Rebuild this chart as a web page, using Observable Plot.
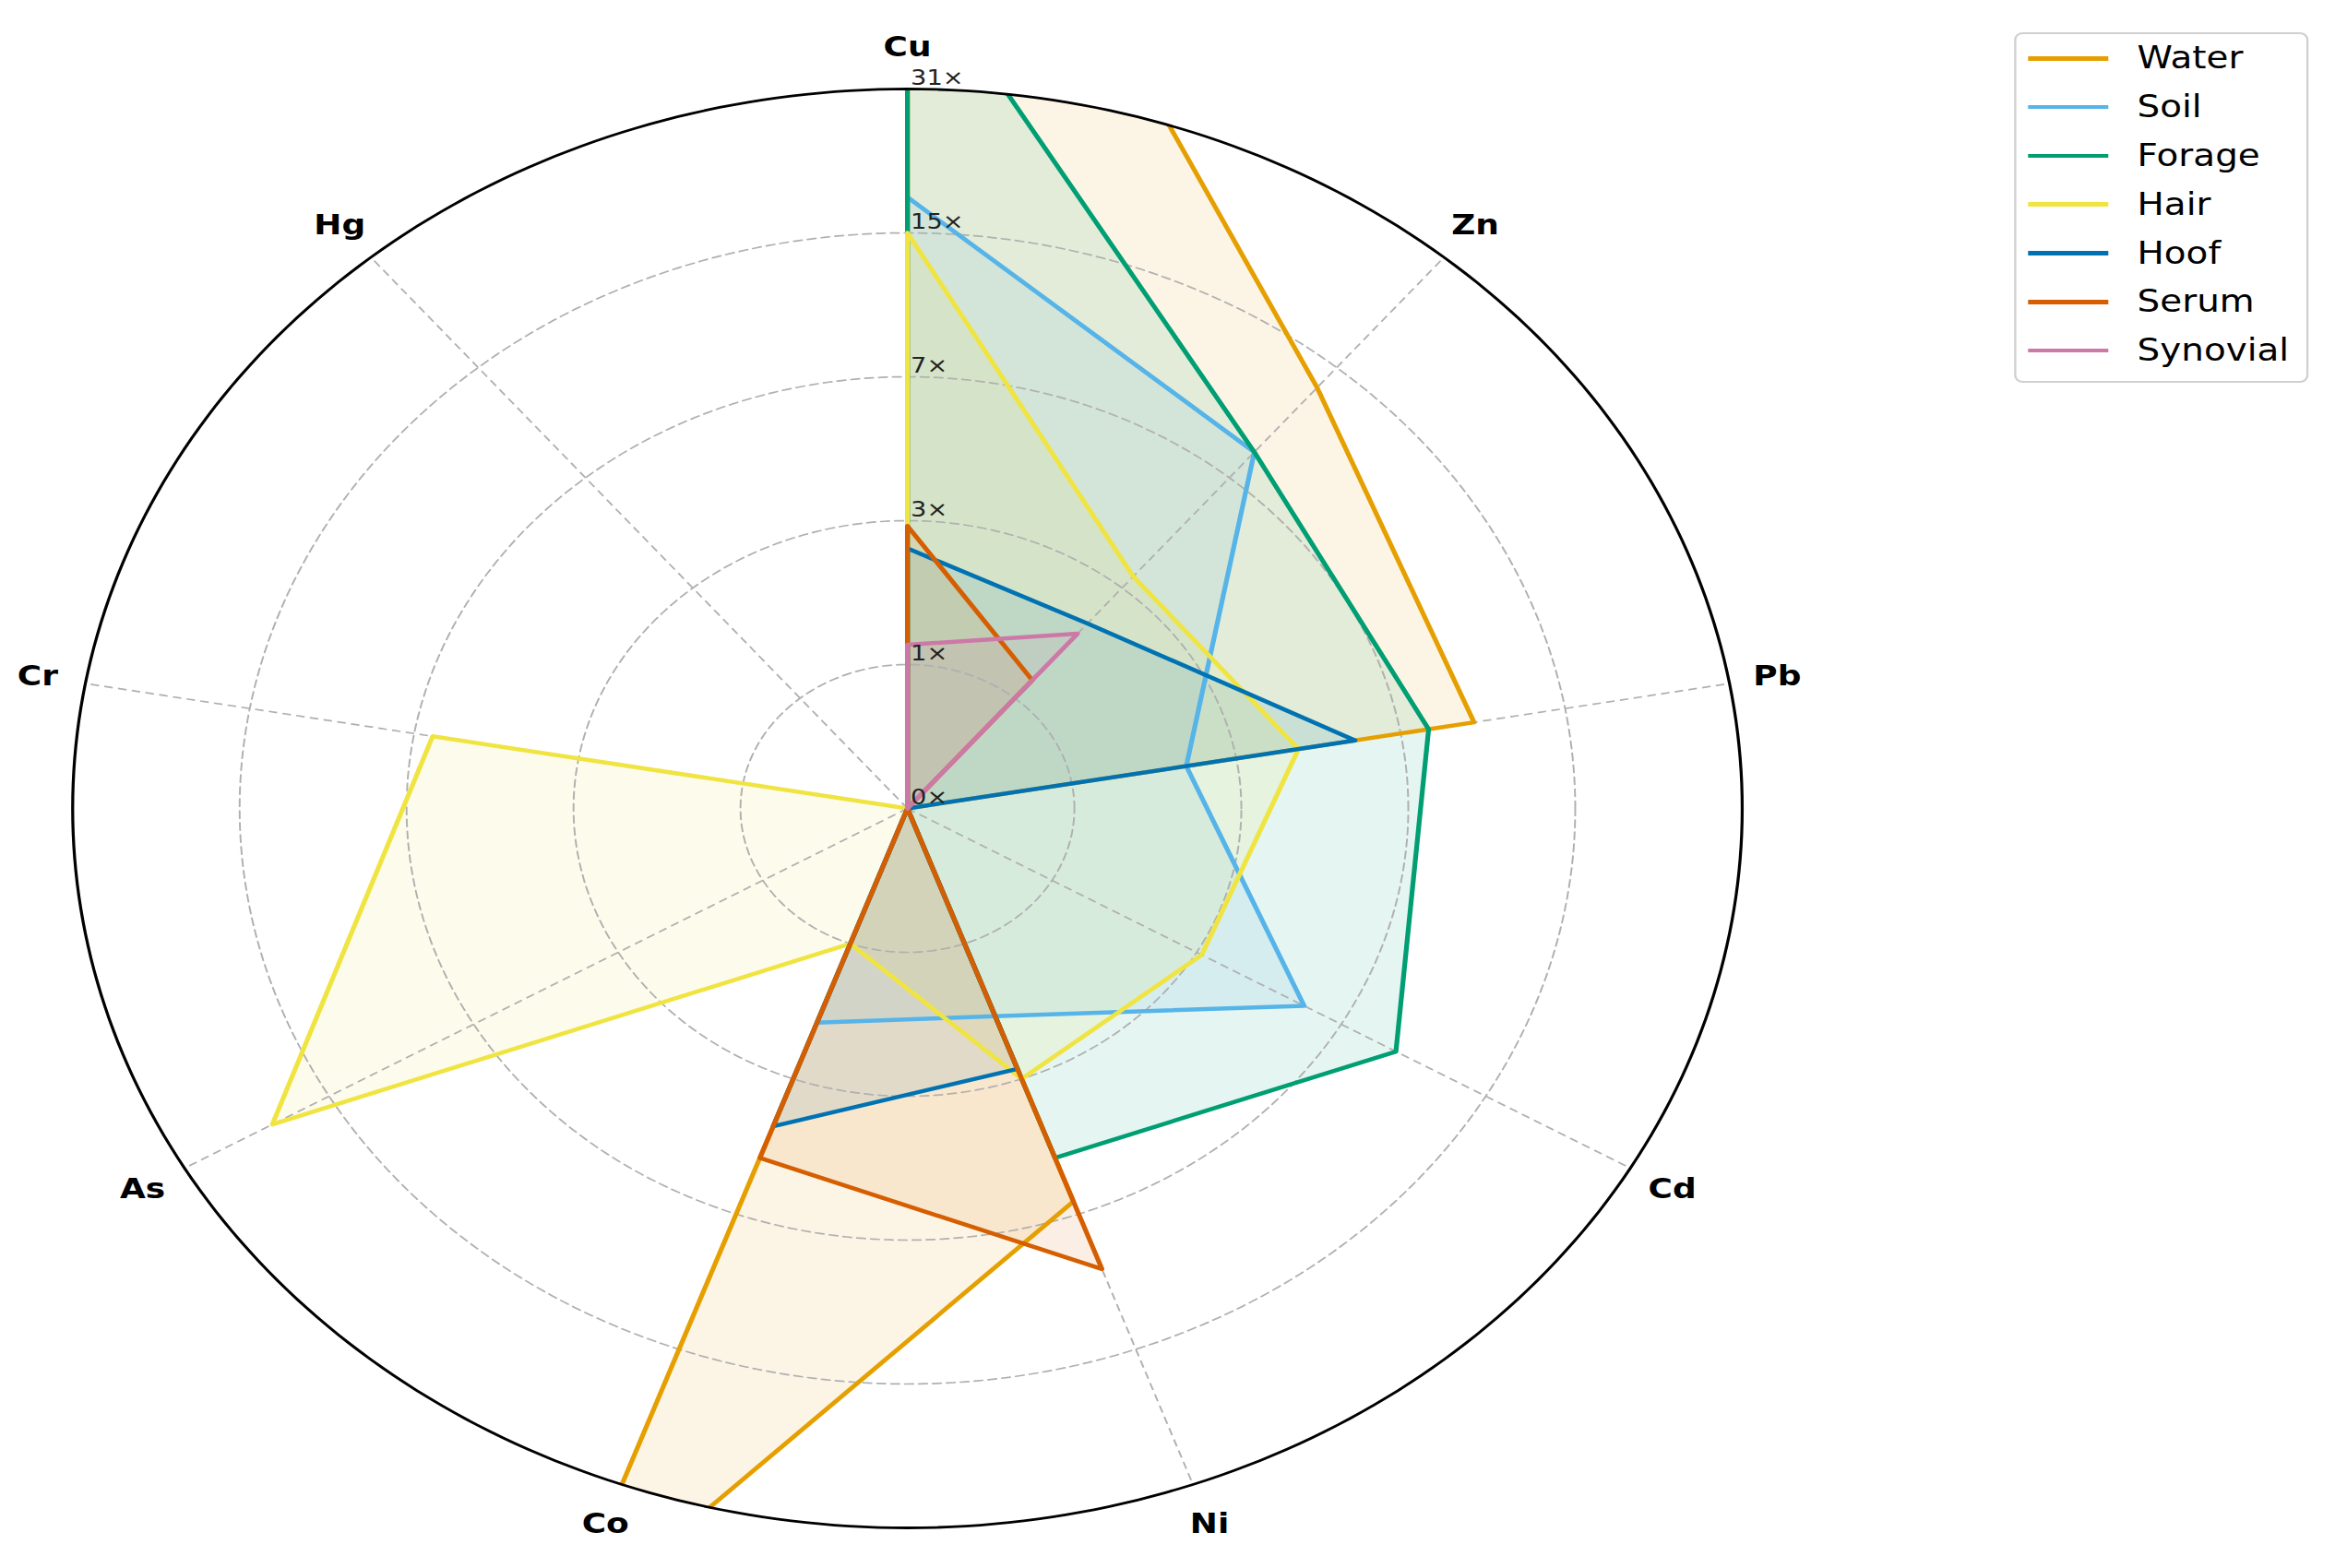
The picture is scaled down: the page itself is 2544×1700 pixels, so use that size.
<!DOCTYPE html>
<html>
<head>
<meta charset="utf-8">
<script src="https://cdn.jsdelivr.net/npm/d3@7"></script>
<script src="https://cdn.jsdelivr.net/npm/@observablehq/plot@0.6"></script>
<style>
html, body { margin: 0; padding: 0; background: #fff; }
body { width: 2544px; height: 1700px; overflow: hidden; font-family: "DejaVu Sans", sans-serif; position: relative; }
#wrap { position: absolute; left: 0; top: 0; width: 2193px; height: 1700px; transform: scaleX(1.16005); transform-origin: 0 0; }
#chart { position: absolute; left: 0; top: 0; }
#legend { position: absolute; left: 1882px; top: 35px; width: 271px; height: 376px; border: 2px solid #d0d0d0; border-radius: 8px; background: #fff; }
#legend .sw { position: absolute; left: 11px; width: 75px; height: 4.5px; }
#legend .lab { position: absolute; left: 113px; height: 40px; line-height: 40px; font-size: 33.5px; color: #000; white-space: nowrap; }
</style>
</head>
<body>
<div id="wrap">
  <div id="chart"></div>
  <div id="legend"></div>
</div>
<script>
// ---- data ----
const metals = ["Cu", "Zn", "Pb", "Cd", "Ni", "Co", "As", "Cr", "Hg"];
const seriesNames = ["Water", "Soil", "Forage", "Hair", "Hoof", "Serum", "Synovial"];
const seriesColors = ["#E69F00", "#56B4E9", "#009E73", "#F0E442", "#0072B2", "#D55E00", "#CC79A7"];
const ringTicks = [0, 1, 3, 7, 15, 31];

const water    = [250, 13.1, 9.9, 0, 6.5, 68, 0, 0, 0];
const soil     = [18, 8.4, 2.24, 5.7, 1.9, 2.0, 0, 0, 0];
const forage   = [62, 8.4, 8.0, 9.4, 5.0, 0, 0, 0, 0];
const hair     = [15, 3.3, 4.2, 3.1, 3.0, 1.0, 20, 6.4, 0];
const hoof     = [2.5, 2.2, 5.6, 0, 2.8, 4.1, 0, 0, 0];
const serum    = [2.9, 1.24, 0, 0, 9.6, 5.0, 0, 0, 0];
const synovial = [1.2, 2.0, 0, 0, 0, 0, 0, 0, 0];
const seriesValues = [water, soil, forage, hair, hoof, serum, synovial];

// ---- layout constants ----
const W = 2193, H = 1700;
const U = 156;            // pixels per radial unit (log2(1+x))
const CX = 847.4, CY = 876;
const RMAX = Math.log2(1 + ringTicks[ringTicks.length - 1]);
const LABEL_R = 5.29;

const toR = v => Math.log2(1 + v);
const angle = i => (90 - 40 * i) * Math.PI / 180;

// polygon table built from the arrays
const table = [];
seriesNames.forEach((s, k) => {
  seriesValues[k].forEach((v, i) => {
    const r = toR(v);
    table.push({series: s, metal: metals[i], x: r * Math.cos(angle(i)), y: r * Math.sin(angle(i))});
  });
});

// grid rings
const rings = [];
ringTicks.slice(1).forEach(t => {
  const r = toR(t);
  d3.range(0, 361, 1).forEach(a => {
    const th = a * Math.PI / 180;
    rings.push({r, x: r * Math.cos(th), y: r * Math.sin(th)});
  });
});

const gridStyle = {stroke: "#b0b0b0", strokeWidth: 1.7, strokeDasharray: "8,5"};

const marks = [];
// fills (below everything)
seriesNames.forEach((s, k) => {
  marks.push(Plot.line(table.filter(d => d.series === s), {
    x: "x", y: "y", curve: "linear-closed",
    fill: seriesColors[k], fillOpacity: 0.1, stroke: "none",
    ariaDescription: "clip"
  }));
});
// grid
marks.push(Plot.line(rings.filter(d => d.r < RMAX), {x: "x", y: "y", z: "r", ...gridStyle}));
marks.push(Plot.link(metals, {
  x1: () => 0, y1: () => 0,
  x2: (d, i) => RMAX * Math.cos(angle(i)),
  y2: (d, i) => RMAX * Math.sin(angle(i)),
  ...gridStyle
}));
// lines
seriesNames.forEach((s, k) => {
  marks.push(Plot.line(table.filter(d => d.series === s), {
    x: "x", y: "y", curve: "linear-closed",
    stroke: seriesColors[k], strokeWidth: 4.5, fill: "none",
    strokeLinejoin: "round",
    ariaDescription: "clip"
  }));
});
// outer frame
marks.push(Plot.line(rings.filter(d => d.r === RMAX), {x: "x", y: "y", stroke: "#000", strokeWidth: 2.8}));
// axis labels
marks.push(Plot.text(metals, {
  x: (d, i) => LABEL_R * Math.cos(angle(i)),
  y: (d, i) => LABEL_R * Math.sin(angle(i)),
  text: d => d,
  fontWeight: "bold", fontSize: 31, fill: "#000"
}));
// ring labels
marks.push(Plot.text(ringTicks, {
  x: () => 0, y: d => toR(d),
  text: d => d + "×",
  textAnchor: "start", dx: 3, dy: -12, fontSize: 23.5, fill: "#222"
}));

const chart = Plot.plot({
  width: W, height: H,
  marginLeft: 0, marginRight: 0, marginTop: 0, marginBottom: 0,
  x: {type: "linear", domain: [-CX / U, (W - CX) / U], axis: null},
  y: {type: "linear", domain: [(CY - H) / U, CY / U], axis: null},
  style: {fontFamily: "DejaVu Sans, sans-serif", background: "transparent"},
  marks
});

// clip data polygons to the polar frame
const ns = "http://www.w3.org/2000/svg";
const defs = document.createElementNS(ns, "defs");
const cp = document.createElementNS(ns, "clipPath");
cp.setAttribute("id", "polarClip");
const circ = document.createElementNS(ns, "circle");
circ.setAttribute("cx", CX);
circ.setAttribute("cy", CY);
circ.setAttribute("r", RMAX * U);
cp.appendChild(circ);
defs.appendChild(cp);
chart.insertBefore(defs, chart.firstChild);
chart.querySelectorAll('g[aria-description="clip"]').forEach(g => g.setAttribute("clip-path", "url(#polarClip)"));

document.getElementById("chart").appendChild(chart);

// legend
const legend = document.getElementById("legend");
seriesNames.forEach((s, k) => {
  const cy = 26.3 + 52.8 * k;
  const sw = document.createElement("div");
  sw.className = "sw";
  sw.style.top = (cy - 2.25) + "px";
  sw.style.background = seriesColors[k];
  legend.appendChild(sw);
  const lab = document.createElement("div");
  lab.className = "lab";
  lab.style.top = (cy - 20) + "px";
  lab.textContent = s;
  legend.appendChild(lab);
});
</script>
</body>
</html>
